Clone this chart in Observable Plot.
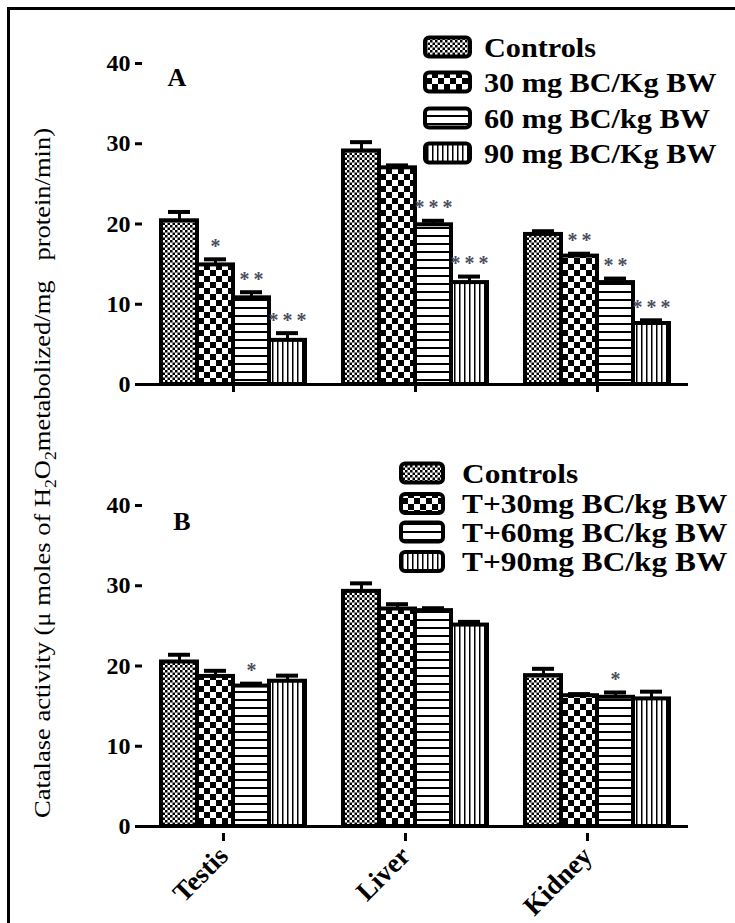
<!DOCTYPE html>
<html><head><meta charset="utf-8">
<script src="https://cdn.jsdelivr.net/npm/d3@7"></script>
<script src="https://cdn.jsdelivr.net/npm/@observablehq/plot@0.6"></script>
<style>
body{margin:0;background:#fff;}
#wrap{position:relative;width:735px;height:923px;overflow:hidden;background:#fff;font-family:'Liberation Serif',serif;}
#frame{position:absolute;left:7px;top:7px;width:800px;height:1000px;border:3px solid #000;box-sizing:border-box;}
.abs{position:absolute;left:0;}
#wrap svg text{font-family:'Liberation Serif',serif;}
</style></head><body>
<div id="wrap"><div id="frame"></div>
<svg width="0" height="0" style="position:absolute">
<defs>
<pattern id="pat0" width="5" height="5" patternUnits="userSpaceOnUse">
  <rect width="5" height="5" fill="#fff"/><rect width="2.5" height="2.5" fill="#000"/><rect x="2.5" y="2.5" width="2.5" height="2.5" fill="#000"/>
</pattern>
<pattern id="pat1" width="12" height="12" patternUnits="userSpaceOnUse">
  <rect width="12" height="12" fill="#fff"/><rect width="6" height="6" fill="#000"/><rect x="6" y="6" width="6" height="6" fill="#000"/>
</pattern>
<pattern id="pat2" width="8" height="8" patternUnits="userSpaceOnUse">
  <rect width="8" height="8" fill="#fff"/><rect y="3" width="8" height="2" fill="#000"/>
</pattern>
<pattern id="pat3" width="5" height="5" patternUnits="userSpaceOnUse">
  <rect width="5" height="5" fill="#fff"/><rect x="2" width="1.5" height="5" fill="#000"/>
</pattern>
</defs></svg>
</div>
<script>
// ---- data ----
const organs = ["Testis", "Liver", "Kidney"];
const seriesA = ["Controls", "30 mg BC/Kg BW", "60 mg BC/kg BW", "90 mg BC/Kg BW"];
const seriesB = ["Controls", "T+30mg BC/kg BW", "T+60mg BC/kg BW", "T+90mg BC/kg BW"];
const yTicks = [0, 10, 20, 30, 40];
// rows: series; columns: Testis, Liver, Kidney
const valuesA = [[20.4, 29.1, 18.7], [14.9, 27.0, 16.0], [10.8, 19.9, 12.7], [5.5, 12.7, 7.6]];
const errorsA = [[1.1, 1.1, 0.4], [0.7, 0.3, 0.3], [0.7, 0.5, 0.5], [0.9, 0.75, 0.4]];
const starsA  = [["", "", ""], ["*", "", "**"], ["**", "***", "**"], ["***", "***", "***"]];
const valuesB = [[20.5, 29.3, 18.8], [18.7, 27.1, 16.3], [17.5, 26.9, 16.1], [18.1, 25.1, 15.9]];
const errorsB = [[0.9, 1.0, 0.85], [0.7, 0.6, 0.2], [0.3, 0.3, 0.6], [0.7, 0.4, 0.9]];
const starsB  = [["", "", ""], ["", "", ""], ["*", "", "*"], ["", "", ""]];

const FONT = "Liberation Serif";

function panel(series, values, errors, stars, opts) {
  const rows = [];
  series.forEach((s, si) => organs.forEach((o, oi) => rows.push({
    organ: o, series: s, si, value: values[si][oi], err: errors[si][oi], star: stars[si][oi]
  })));
  const marks = [];
  series.forEach((s, si) => marks.push(Plot.barY(rows.filter(d => d.si === si), {
    fx: "organ", x: "series", y: "value", fill: `url(#pat${si})`, stroke: "black", strokeWidth: 4
  })));
  marks.push(Plot.ruleX(rows, {fx: "organ", x: "series", y1: "value", y2: d => d.value + d.err, strokeWidth: 3}));
  marks.push(Plot.tickY(rows, {fx: "organ", x: "series", y: d => d.value + d.err, strokeWidth: 4, insetLeft: 7, insetRight: 7}));
  marks.push(Plot.text(rows.filter(d => d.star), {
    fx: "organ", x: "series", y: d => d.value + d.err, text: d => d.star.split("").join("\u2009"),
    dy: -13, fontSize: 20, fontWeight: "bold", fontFamily: FONT, fill: "#4a4e60"
  }));
  marks.push(Plot.ruleY([0], {strokeWidth: 3}));
  marks.push(Plot.axisY(yTicks, {tickSize: 7, tickPadding: 5, strokeWidth: 3, fontSize: 24, fontWeight: "bold", fontFamily: FONT, label: null, line: true}));
  marks.push(Plot.axisFx({
    anchor: "bottom", tickSize: 8, strokeWidth: 3, label: null,
    tickFormat: opts.labels ? (d => d) : (() => ""),
    tickRotate: opts.labels ? -45 : 0, tickPadding: 10, dx: opts.labels ? -10 : 0, dy: opts.labels ? 7 : 0,
    fontSize: 27, fontWeight: "bold", fontFamily: FONT
  }));
  return Plot.plot({
    width: 735, height: opts.height,
    marginLeft: 142, marginRight: 47, marginTop: opts.marginTop, marginBottom: opts.marginBottom,
    style: {fontFamily: FONT, color: "black", background: "transparent", overflow: "visible"},
    fx: {domain: organs, padding: 0},
    x: {domain: series, paddingInner: 0, paddingOuter: 0.5, axis: null},
    y: {domain: [0, 40]},
    marks
  });
}

const wrap = document.getElementById("wrap");
const pA = panel(seriesA, valuesA, errorsA, starsA, {height: 410, marginTop: 63, marginBottom: 26, labels: false});
pA.classList.add("abs"); pA.style.top = "0px";
wrap.appendChild(pA);
const pB = panel(seriesB, valuesB, errorsB, starsB, {height: 483, marginTop: 65, marginBottom: 97, labels: true});
pB.classList.add("abs"); pB.style.top = "440px";
wrap.appendChild(pB);

// overlay: legends, panel letters, y title
const ov = d3.select(wrap).append("svg").attr("class", "abs").style("top", "0px")
  .attr("width", 735).attr("height", 923).attr("font-family", FONT);

function legend(series, x0, tx, ys, sw, sx) {
  series.forEach((s, i) => {
    ov.append("rect").attr("x", x0).attr("y", ys[i] - 9.5).attr("width", sw).attr("height", 19)
      .attr("rx", 4).attr("fill", `url(#pat${i})`).attr("stroke", "#000").attr("stroke-width", 4);
    ov.append("text").attr("transform", `translate(${tx},${ys[i] + 9.5}) scale(${sx},1)`)
      .attr("font-family", FONT).attr("font-size", 28).attr("font-weight", "bold").text(s);
  });
}
legend(seriesA, 425, 484, [47, 82, 118, 153], 45, 1.08);
legend(seriesB, 401, 462, [473, 503.5, 532, 561.5], 42, 1.12);

ov.append("text").attr("x", 177).attr("y", 86).attr("text-anchor", "middle").attr("font-family", FONT)
  .attr("font-size", 26).attr("font-weight", "bold").text("A");
ov.append("text").attr("x", 182).attr("y", 530).attr("text-anchor", "middle").attr("font-family", FONT)
  .attr("font-size", 26).attr("font-weight", "bold").text("B");

const yt = ov.append("text").attr("transform", "translate(42,473) rotate(-90)")
  .attr("text-anchor", "middle").attr("dominant-baseline", "central").attr("font-family", FONT)
  .attr("font-size", 24).attr("textLength", 690).attr("lengthAdjust", "spacingAndGlyphs");
yt.append("tspan").text("Catalase activity (\u03bc moles of H");
yt.append("tspan").attr("baseline-shift", "sub").attr("font-size", 16).text("2");
yt.append("tspan").text("O");
yt.append("tspan").attr("baseline-shift", "sub").attr("font-size", 16).text("2");
yt.append("tspan").text("metabolized/mg\u00a0\u00a0 protein/min)");
</script>
</body></html>
